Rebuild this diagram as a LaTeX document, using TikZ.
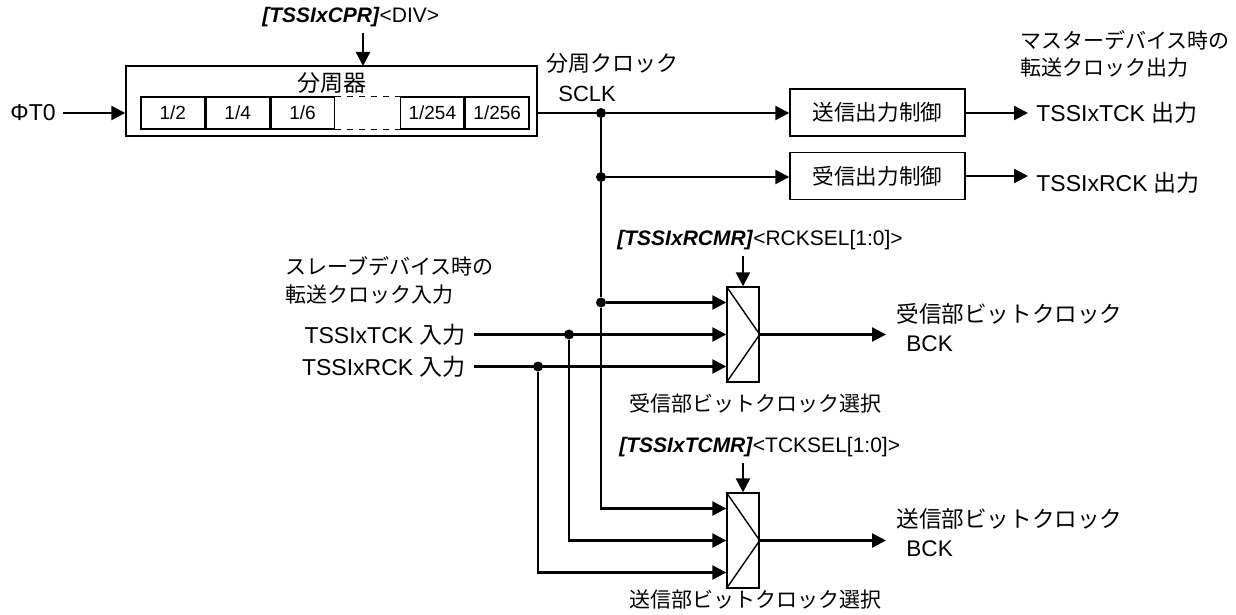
\documentclass[tikz,border=0pt]{standalone}
\usepackage{fontspec}
\setmainfont{Liberation Sans}
\newfontfamily\jpfont{Noto Sans CJK JP}
\newcommand{\jp}[1]{{\jpfont #1}}
\usetikzlibrary{arrows.meta,positioning}

\tikzset{
  sig/.style={line width=1.2pt, -{Triangle[length=7pt,width=7pt]}},
  wire/.style={line width=1.2pt},
  blk/.style={draw, line width=0.7pt, inner sep=0pt},
  ctrlbox/.style={blk, minimum width=87.5pt, minimum height=23.5pt, font=\fontsize{10.8}{13}\selectfont},
  cell/.style={blk, minimum width=31.75pt, minimum height=16pt, font=\fontsize{9.5}{11}\selectfont},
  muxbox/.style={blk, minimum width=16pt, minimum height=47.5pt},
  lbl/.style={inner sep=0pt, font=\fontsize{10.5}{14}\selectfont},
  iolbl/.style={lbl, font=\fontsize{11.5}{14}\selectfont},
  dot/.style={circle, fill, inner sep=0pt, minimum size=5pt},
}

\begin{document}
\begin{tikzpicture}[x=0.5pt, y=-0.5pt]
\useasboundingbox (0,0) rectangle (1236,615);

% divider block
\node[blk, minimum width=205.5pt, minimum height=35pt] (div) at (331.5,101) {};
\node[lbl, font=\fontsize{11.5}{14}\selectfont] (divname) at (332,83) {\jp{分周器}};
\node[cell] (c2) at (172.75,113) {1/2};
\node[cell, right=0pt of c2] (c4) {1/4};
\node[cell, right=0pt of c4] (c6) {1/6};
\node[cell, draw=none, right=0pt of c6] (gap) {};
\node[cell, right=0pt of gap] (c254) {1/254};
\node[cell, right=0pt of c254] (c256) {1/256};
\draw[dashed, line width=0.7pt] (gap.north west) -- (gap.north east)
  (gap.south west) -- (gap.south east);

\node[iolbl, anchor=east] (phi) at (56,113) {ΦT0};
\draw[sig] ([xshift=3.5pt]phi.east) -- (phi.east -| div.west);

\node[lbl, anchor=west, inner ysep=3pt] (cpr) at (262,17) {\textbf{\textit{[TSSIxCPR]}}<DIV>};
\coordinate (divin) at (363,66);
\draw[sig] (cpr.south -| divin) -- (divin);

\node[lbl, anchor=west, align=left, font=\fontsize{11}{15}\selectfont] (sclkl) at (546,78)
  {\jp{分周クロック}\\\hspace{6pt}SCLK};

% junctions
\node[dot] (j1) at (601,113) {};
\node[dot] (j2) at (601,177) {};
\node[dot] (j3) at (601,302.5) {};
\node[dot] (k1) at (569,334.5) {};
\node[dot] (k2) at (538,366.5) {};

% output control
\node[ctrlbox] (txc) at (877.5,112.5) {\jp{送信出力制御}};
\node[ctrlbox] (rxc) at (877.5,176) {\jp{受信出力制御}};
\draw[wire] (div.east |- j1) -- (j1);
\draw[sig] (j1) -- (j1 -| txc.west);
\draw[sig] (j2) -- (j2 -| rxc.west);

\coordinate (tout) at (1028,113);
\coordinate (rout) at (1028,176);
\draw[sig] (txc.east |- tout) -- (tout);
\draw[sig] (rxc.east |- rout) -- (rout);
\node[iolbl, anchor=west] (tck) at (1036,113) {TSSIxTCK \jp{出力}};
\node[iolbl, anchor=west] (rck) at (1036,183) {TSSIxRCK \jp{出力}};
\node[lbl, anchor=west, align=left, font=\fontsize{10.5}{13.5}\selectfont] (mst) at (1020,54)
  {\jp{マスターデバイス時の}\\\jp{転送クロック出力}};

% inputs
\node[lbl, anchor=west, align=left] (slv) at (285,280)
  {\jp{スレーブデバイス時の}\\\jp{転送クロック入力}};
\node[iolbl, anchor=east] (tin) at (466,334.5) {TSSIxTCK \jp{入力}};
\node[iolbl, anchor=east] (rin) at (466,366.5) {TSSIxRCK \jp{入力}};

% selectors
\node[muxbox] (rmux) at (743,334.5) {};
\node[muxbox] (tmux) at (743,540.5) {};
\draw[line width=0.7pt] (rmux.north west) -- (rmux.east) -- (rmux.south west);
\draw[line width=0.7pt] (tmux.north west) -- (tmux.east) -- (tmux.south west);

\node[lbl, anchor=west, inner ysep=3pt] (rsel) at (617,240) {\textbf{\textit{[TSSIxRCMR]}}<RCKSEL[1:0]>};
\node[lbl, anchor=west, inner ysep=3pt] (tsel) at (619,447) {\textbf{\textit{[TSSIxTCMR]}}<TCKSEL[1:0]>};
\draw[sig] (rsel.south -| rmux.north) -- (rmux.north);
\draw[sig] (tsel.south -| tmux.north) -- (tmux.north);

\draw[wire] (j1) -- (j2) -- (j3);
\draw[sig] (j3) -- (j3 -| rmux.west);
\draw[sig] ([xshift=4pt]tin.east) -- (tin.east -| rmux.west);
\draw[sig] ([xshift=4pt]rin.east) -- (rin.east -| rmux.west);
\draw[sig] (j3) |- ([yshift=16pt]tmux.west);
\draw[sig] (k1) |- (tmux.west);
\draw[sig] (k2) |- ([yshift=-16pt]tmux.west);

\node[lbl] (rselname) at (755,403) {\jp{受信部ビットクロック選択}};
\node[lbl] (tselname) at (755,600) {\jp{送信部ビットクロック選択}};

% bit clocks
\coordinate (rbck) at (886,334.5);
\coordinate (tbck) at (886,540.5);
\draw[sig] (rmux.east) -- (rbck);
\draw[sig] (tmux.east) -- (tbck);
\node[lbl, anchor=west, align=left, font=\fontsize{11.3}{14.5}\selectfont] (rbckl) at (896,328)
  {\jp{受信部ビットクロック}\\\hspace{5pt}BCK};
\node[lbl, anchor=west, align=left, font=\fontsize{11.3}{14.5}\selectfont] (tbckl) at (896,533)
  {\jp{送信部ビットクロック}\\\hspace{5pt}BCK};
\end{tikzpicture}
\end{document}
